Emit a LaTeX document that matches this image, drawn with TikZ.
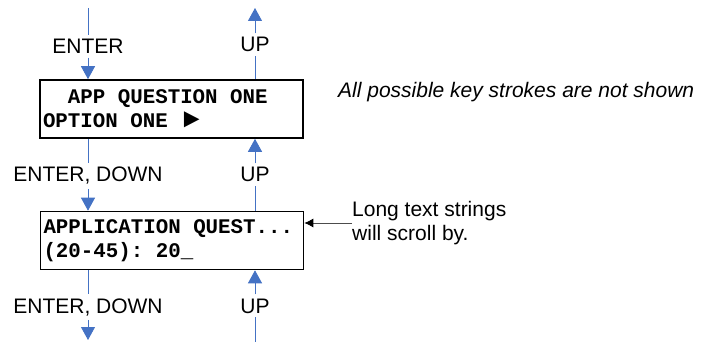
\documentclass[tikz,border=0pt]{standalone}
\usepackage{fontspec}
\setmainfont{Liberation Sans}
\setmonofont{Liberation Mono}
\usetikzlibrary{arrows.meta}
\definecolor{keyblue}{HTML}{4472C4}

\begin{document}
\begin{tikzpicture}[x=1pt,y=-1pt,
    screen/.style = {draw,line width=1.6pt,inner xsep=3pt,text width=257pt,
                     minimum height=58pt,align=flush left,
                     font=\fontsize{20.8}{24}\selectfont\ttfamily\bfseries,
                     execute at begin node={\spaceskip=12.48pt\relax}},
    keylbl/.style = {font=\fontsize{21}{24}\selectfont,anchor=base,inner sep=4pt},
    flow/.style   = {keyblue,line width=0.9pt},
    arrow/.style  = {flow,-{Triangle[length=13pt,width=14pt]}}]
    \useasboundingbox (0,0) rectangle (704,342);

    % the two screens
    \node[screen] (scr1) at (171.5,109)
        {\hphantom{AA}APP QUESTION ONE\\OPTION ONE \hspace{3pt}\scalebox{1.3}{►}};
    \node[screen] (scr2) at (172,240.5) {APPLICATION QUEST...\\(20-45): 20\_};

    % key labels
    \node[keylbl] (enter) at (88,53.5) {ENTER};
    \node[keylbl] (up1)   at (255,52)  {UP};
    \node[keylbl] (down1) at (88,182)  {ENTER, DOWN};
    \node[keylbl] (up2)   at (255,182) {UP};
    \node[keylbl] (down2) at (88,313)  {ENTER, DOWN};
    \node[keylbl] (up3)   at (255,313) {UP};

    \coordinate (inL)  at (88,8);
    \coordinate (outR) at (255,8);
    \coordinate (outL) at (88,340);
    \coordinate (inR)  at (255,342);

    \draw[flow]  (inL) -- (enter);
    \draw[arrow] (enter) -- (enter |- scr1.north);
    \draw[flow]  (scr1.north -| up1) -- (up1);
    \draw[arrow] (up1) -- (outR);

    \draw[flow]  (scr1.south -| down1) -- (down1);
    \draw[arrow] (down1) -- (down1 |- scr2.north);
    \draw[flow]  (scr2.north -| up2) -- (up2);
    \draw[arrow] (up2) -- (up2 |- scr1.south);

    \draw[flow]  (scr2.south -| down2) -- (down2);
    \draw[arrow] (down2) -- (outL);
    \draw[flow]  (inR) -- (up3);
    \draw[arrow] (up3) -- (up3 |- scr2.south);

    % notes
    \node[font=\fontsize{21}{24}\selectfont\itshape,anchor=base west,inner sep=0pt]
        (hint) at (338,98) {All possible key strokes are not shown};
    \node[font=\fontsize{21}{24}\selectfont,align=left,anchor=west,inner sep=0pt]
        (scroll) at (352,223) {Long text strings\\will scroll by.};
    \draw[gray!60!black,line width=0.9pt,-{Latex[length=9pt,width=9pt,black]}]
        (scroll.west) -- (scroll.west -| scr2.east);
\end{tikzpicture}
\end{document}
